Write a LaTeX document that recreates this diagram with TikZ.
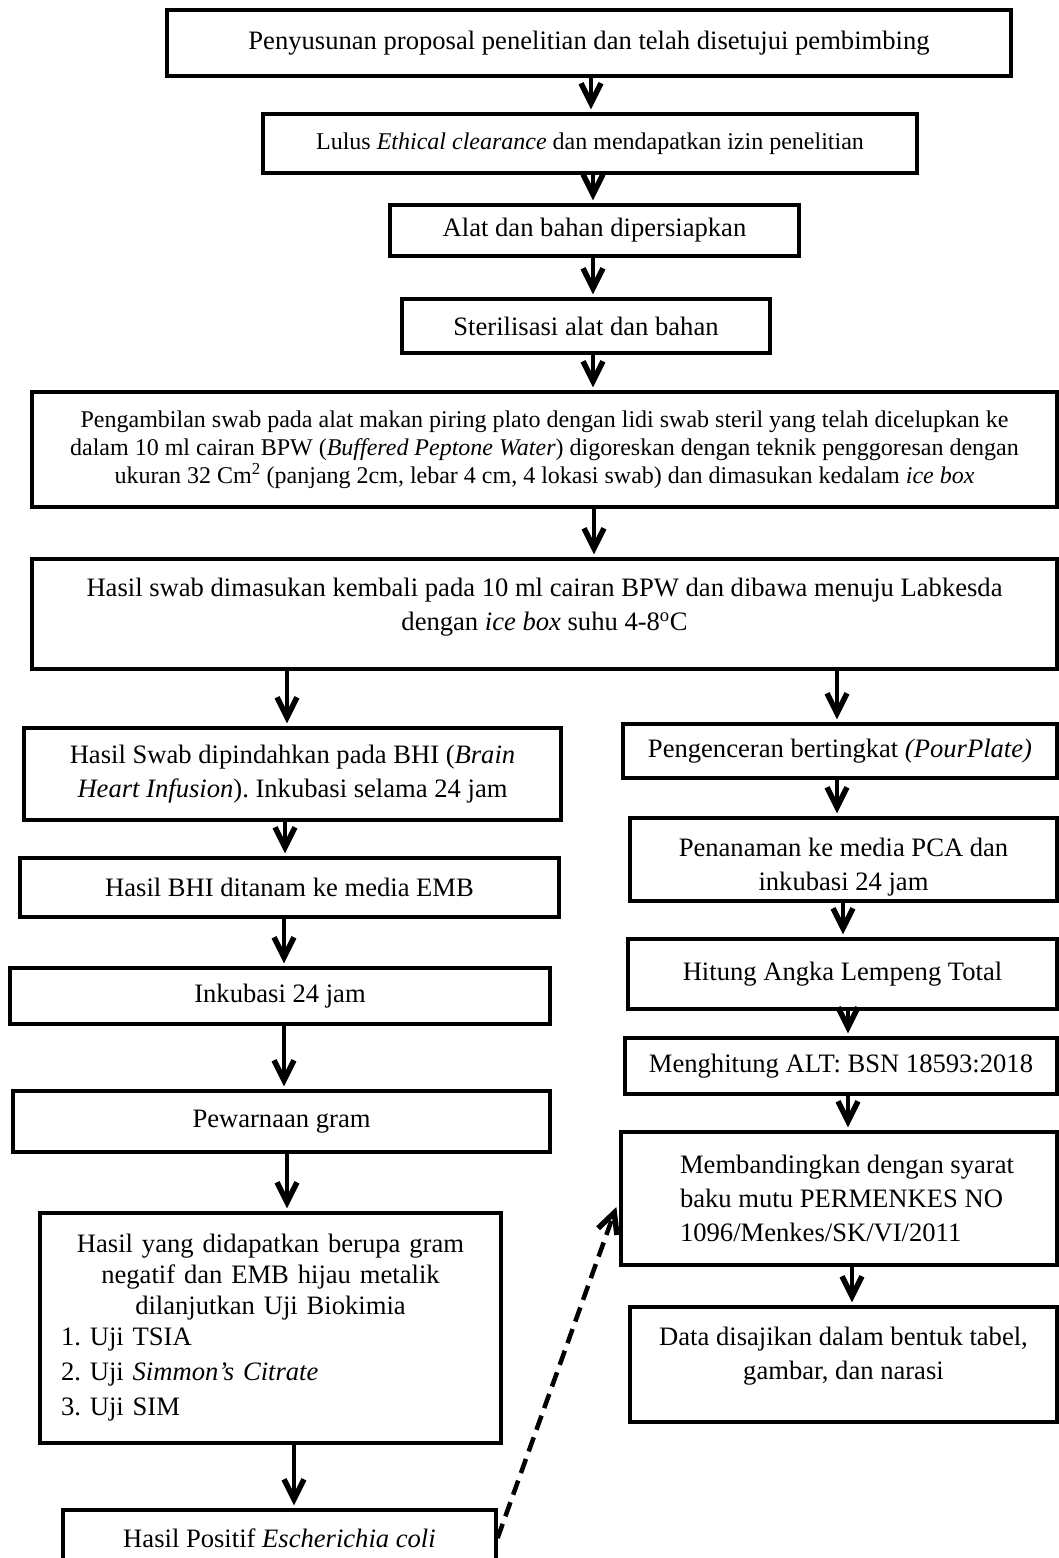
\documentclass[tikz,border=0pt]{standalone}
\usepackage{fontspec}
\setmainfont{Liberation Serif}
\frenchspacing
\usetikzlibrary{arrows.meta, positioning}

\begin{document}
\begin{tikzpicture}[x=1pt, y=-1pt]
    \tikzstyle{stage}=[draw=black, rectangle, line width=3.2pt, inner sep=4pt, align=center, font=\fontsize{26.6pt}{34pt}\selectfont]
    \tikzstyle{small stage}=[stage, font=\fontsize{24pt}{28pt}\selectfont]
    \tikzstyle{flow}=[line width=4.2pt, -{Straight Barb[length=20pt,width=20pt,line width=5.5pt]}, shorten >=3pt]
    \tikzstyle{back flow}=[flow, dash pattern=on 15pt off 8pt, line width=4.5pt, shorten >=9pt]

    \useasboundingbox (0,0) rectangle (1059,1558);

    % main chain
    \node[stage, minimum width=844pt, minimum height=66pt] (prop) at (589,43) {Penyusunan proposal penelitian dan telah disetujui pembimbing};
    \node[small stage, minimum width=654pt, minimum height=59pt] (etik) at (590,143.5) {Lulus \textit{Ethical clearance} dan mendapatkan izin penelitian};
    \node[stage, minimum width=409pt, minimum height=51pt] (alat) at (594.5,230.5) {Alat dan bahan dipersiapkan};
    \node[stage, minimum width=368pt, minimum height=54pt] (steril) at (586,326) {Sterilisasi alat dan bahan};
    \node[small stage, minimum width=1025pt, minimum height=115pt] (swab) at (544.5,449.5) {Pengambilan swab pada alat makan piring plato dengan lidi swab steril yang telah dicelupkan ke\\ dalam 10 ml cairan BPW (\textit{Buffered Peptone Water}) digoreskan dengan teknik penggoresan dengan\\ ukuran 32 Cm\textsuperscript{2} (panjang 2cm, lebar 4 cm, 4 lokasi swab) dan dimasukan kedalam \textit{ice box}};
    \node[stage, minimum width=1025pt, minimum height=110pt, text depth=20pt] (kirim) at (544.5,614) {Hasil swab dimasukan kembali pada 10 ml cairan BPW dan dibawa menuju Labkesda\\ dengan \textit{ice box} suhu 4-8\textsuperscript{o}C};

    % left branch
    \node[stage, minimum width=537pt, minimum height=92pt] (bhi) at (292.5,774) {Hasil Swab dipindahkan pada BHI (\textit{Brain}\\ \textit{Heart Infusion}). Inkubasi selama 24 jam};
    \node[stage, minimum width=539pt, minimum height=59pt] (emb) at (289.5,887.5) {Hasil BHI ditanam ke media EMB};
    \node[stage, minimum width=540pt, minimum height=56pt] (inkub) at (280,996) {Inkubasi 24 jam};
    \node[stage, minimum width=537pt, minimum height=61pt] (gram) at (281.5,1121.5) {Pewarnaan gram};
    \node[stage, minimum width=461pt, minimum height=230pt, text width=419pt, align=left, font=\fontsize{26.6pt}{31pt}\selectfont] (biokim) at (270.5,1328) {{\centering Hasil yang didapatkan berupa gram\\ negatif dan EMB hijau metalik\\ dilanjutkan Uji Biokimia\par}
        1. Uji TSIA\\[4pt] 2. Uji \textit{Simmon’s Citrate}\\[4pt] 3. Uji SIM};
    \node[stage, minimum width=433pt, minimum height=56pt] (ecoli) at (279.5,1538) {Hasil Positif \textit{Escherichia coli}};

    % right branch
    \node[stage, minimum width=434pt, minimum height=54pt] (encer) at (840,751) {Pengenceran bertingkat \textit{(PourPlate)}};
    \node[stage, minimum width=427pt, minimum height=83pt, text height=68pt] (pca) at (843.5,859.5) {Penanaman ke media PCA dan\\ inkubasi 24 jam};
    \node[stage, minimum width=429pt, minimum height=70pt] (hitung) at (842.5,974) {Hitung Angka Lempeng Total};
    \node[stage, minimum width=432pt, minimum height=56pt] (alt) at (841,1066) {Menghitung ALT: BSN 18593:2018};
    \node[stage, minimum width=436pt, minimum height=133pt, align=left] (baku) at (839,1198.5) {\hspace*{16pt}Membandingkan dengan syarat\\ \hspace*{16pt}baku mutu PERMENKES NO\\ \hspace*{16pt}1096/Menkes/SK/VI/2011};
    \node[stage, minimum width=427pt, minimum height=115pt, text depth=22pt] (sajian) at (843.5,1364.5) {Data disajikan dalam bentuk tabel,\\ gambar, dan narasi};

    \foreach \a/\b/\x in {prop/etik/591, etik/alat/593, alat/steril/593, steril/swab/593, swab/kirim/594,
        kirim/bhi/287, bhi/emb/285, emb/inkub/284, inkub/gram/284, gram/biokim/287, biokim/ecoli/294,
        kirim/encer/837, encer/pca/837, pca/hitung/843, hitung/alt/848, alt/baku/848, baku/sajian/852}{
        \coordinate (col) at (\x,0);
        \draw[flow] (\a.south -| col) -- (\b.north -| col);
    }

    \draw[back flow] (ecoli.east) -- (baku.west);
\end{tikzpicture}
\end{document}
